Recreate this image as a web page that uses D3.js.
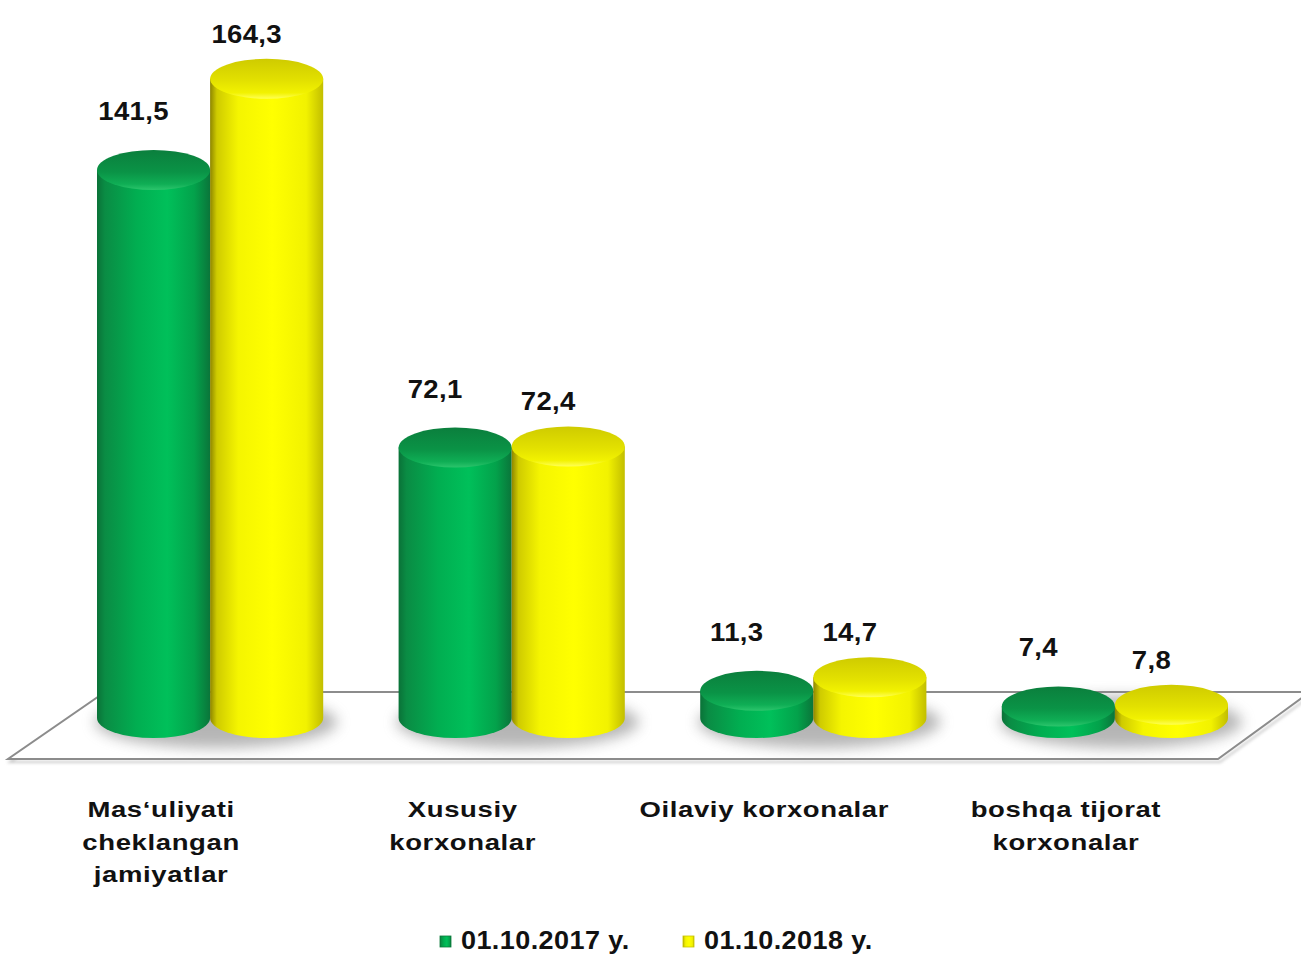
<!DOCTYPE html>
<html>
<head>
<meta charset="utf-8">
<script src="https://cdn.jsdelivr.net/npm/d3@7/dist/d3.min.js"></script>
<style>
  html, body { margin: 0; padding: 0; background: #ffffff; }
  svg { display: block; }
  text { font-family: "Liberation Sans", Arial, sans-serif; font-weight: bold; fill: #111; }
</style>
</head>
<body>
<svg id="chart" width="1301" height="961"></svg>
<script>
// ---- data ----
const categories = ["Mas‘uliyati cheklangan jamiyatlar", "Xususiy korxonalar", "Oilaviy korxonalar", "boshqa tijorat korxonalar"];
const categoryLines = [["Mas‘uliyati", "cheklangan", "jamiyatlar"], ["Xususiy", "korxonalar"], ["Oilaviy korxonalar"], ["boshqa tijorat", "korxonalar"]];
const seriesNames = ["01.10.2017 y.", "01.10.2018 y."];
const values2017 = [141.5, 72.1, 11.3, 7.4];
const values2018 = [164.3, 72.4, 14.7, 7.8];
const valueLabels2017 = ["141,5", "72,1", "11,3", "7,4"];
const valueLabels2018 = ["164,3", "72,4", "14,7", "7,8"];

const seriesValues = [values2017, values2018];
const seriesLabels = [valueLabels2017, valueLabels2018];

// ---- layout / style ----
const svg = d3.select("#chart");
const baseY = 718;   // base ellipse centre
const ry = 20;       // ellipse vertical radius
const labelOffset = [59, 45];

const x0 = d3.scaleBand().domain(categories).range([97, 1228]).paddingInner(0.25).paddingOuter(0);
const x1 = d3.scaleBand().domain(seriesNames).range([0, x0.bandwidth()]).padding(0);
const y = d3.scaleLinear().domain([0, 165]).range([736, 76]);

const defs = svg.append("defs");
function linGrad(id, stops, vertical) {
  const g = defs.append("linearGradient").attr("id", id)
    .attr("x1", "0").attr("y1", "0")
    .attr("x2", vertical ? "0" : "1").attr("y2", vertical ? "1" : "0");
  stops.forEach(s => g.append("stop").attr("offset", s[0]).attr("stop-color", s[1]));
}
linGrad("gBodyG", [["0%", "#0a7238"], ["7%", "#0a8c44"], ["35%", "#01ae51"], ["62%", "#00c05a"], ["86%", "#03a24b"], ["100%", "#0a753a"]]);
linGrad("gTopG", [["0%", "#0b7f3d"], ["55%", "#0a9346"], ["85%", "#0fae55"], ["100%", "#2cc56c"]], true);
linGrad("gBodyY", [["0%", "#8e8600"], ["6%", "#cfcb00"], ["25%", "#f5f500"], ["55%", "#ffff00"], ["85%", "#f2f200"], ["100%", "#c2be00"]]);
linGrad("gTopY", [["0%", "#cfcb00"], ["55%", "#e3e100"], ["85%", "#f2f200"], ["100%", "#ffff55"]], true);
const bodyFill = ["url(#gBodyG)", "url(#gBodyY)"];
const topFill = ["url(#gTopG)", "url(#gTopY)"];

const blur = defs.append("filter").attr("id", "blur").attr("x", "-50%").attr("y", "-50%").attr("width", "200%").attr("height", "200%");
blur.append("feGaussianBlur").attr("stdDeviation", 7);
const blurS = defs.append("filter").attr("id", "blurS").attr("x", "-20%").attr("y", "-200%").attr("width", "140%").attr("height", "500%");
blurS.append("feGaussianBlur").attr("stdDeviation", 1.5);

// ---- floor ----
const floorFront = 759, floorBack = 692;
const floorPts = [[8, floorFront], [1218, floorFront], [1310, floorBack], [105, floorBack]];
svg.append("polygon")
  .attr("points", floorPts.map(p => [p[0] + 2, p[1] + 3].join(",")).join(" "))
  .attr("fill", "none").attr("stroke", "#c8c8c8").attr("stroke-width", 2).attr("filter", "url(#blurS)");
svg.append("polygon")
  .attr("points", floorPts.map(p => p.join(",")).join(" "))
  .attr("fill", "#ffffff").attr("stroke", "#8c8c8c").attr("stroke-width", 2);

// ---- shadows ----
categories.forEach((c) => {
  svg.append("ellipse")
    .attr("cx", x0(c) + x0.bandwidth() / 2 + 6)
    .attr("cy", baseY + 4)
    .attr("rx", x0.bandwidth() / 2 + 8)
    .attr("ry", ry + 6)
    .attr("fill", "#7a7a7a").attr("opacity", 0.55)
    .attr("filter", "url(#blur)");
});

// ---- cylinders ----
const groups = svg.selectAll("g.cat").data(categories).enter().append("g")
  .attr("class", "cat")
  .attr("transform", c => `translate(${x0(c)},0)`);

seriesNames.forEach((s, si) => {
  groups.each(function (c, ci) {
    const g = d3.select(this);
    const v = seriesValues[si][ci];
    const xl = x1(s), w = x1.bandwidth(), rx = w / 2, cx = xl + rx;
    const ty = y(v);
    g.append("path")
      .attr("d", `M${xl},${ty} L${xl},${baseY} A${rx},${ry} 0 0 0 ${xl + w},${baseY} L${xl + w},${ty} Z`)
      .attr("fill", bodyFill[si]);
    g.append("ellipse")
      .attr("cx", cx).attr("cy", ty).attr("rx", rx).attr("ry", ry)
      .attr("fill", topFill[si]);
    g.append("g")
      .attr("transform", `translate(${cx - 20},${ty - labelOffset[si] + 9}) scale(1.1,1)`)
      .append("text")
      .attr("text-anchor", "middle")
      .attr("font-size", 25)
      .attr("letter-spacing", 0.3)
      .text(seriesLabels[si][ci]);
  });
});

// ---- category labels ----
categories.forEach((c, i) => {
  const cx = x0(c) + x0.bandwidth() / 2 - 49;
  categoryLines[i].forEach((line, li) => {
    svg.append("g")
      .attr("transform", `translate(${cx},${817 + li * 32.5}) scale(1.25,1)`)
      .append("text")
      .attr("text-anchor", "middle")
      .attr("font-size", 22)
      .attr("letter-spacing", 0.5)
      .text(line);
  });
});

// ---- legend ----
const legendX = [440, 683];
seriesNames.forEach((s, si) => {
  svg.append("rect")
    .attr("x", legendX[si]).attr("y", 936).attr("width", 11).attr("height", 11)
    .attr("fill", bodyFill[si]).attr("stroke", si === 0 ? "#0a7a3a" : "#c8c400").attr("stroke-width", 0.8);
  svg.append("g")
    .attr("transform", `translate(${legendX[si] + 21},949) scale(1.08,1)`)
    .append("text")
    .attr("font-size", 25)
    .attr("letter-spacing", 0.4)
    .text(s);
});
</script>
</body>
</html>
